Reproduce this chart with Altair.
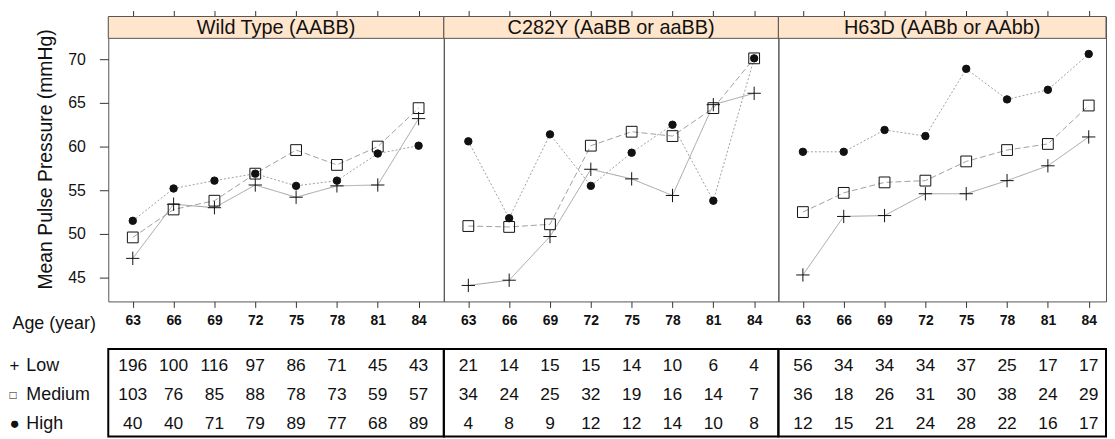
import altair as alt
import pandas as pd

FONT = "Liberation Sans"

panels = ["Wild Type (AABB)", "C282Y (AaBB or aaBB)", "H63D (AABb or AAbb)"]
ages = [63, 66, 69, 72, 75, 78, 81, 84]
levels = ["Low", "Medium", "High"]
level_symbols = ["+", "\u25a1", "\u25cf"]

# Mean pulse pressure (mmHg) per genotype panel and level
wt_low = [47.2, 53.4, 53.0, 55.6, 54.2, 55.5, 55.6, 63.2]
wt_med = [49.6, 52.8, 53.8, 56.9, 59.6, 57.9, 60.0, 64.4]
wt_high = [51.5, 55.2, 56.1, 56.9, 55.5, 56.1, 59.2, 60.1]
c_low = [44.1, 44.7, 49.7, 57.4, 56.3, 54.4, 64.8, 66.1]
c_med = [50.9, 50.8, 51.1, 60.1, 61.7, 61.2, 64.4, 70.1]
c_high = [60.6, 51.8, 61.4, 55.5, 59.3, 62.5, 53.8, 70.1]
h_low = [45.3, 52.0, 52.1, 54.6, 54.6, 56.1, 57.8, 61.1]
h_med = [52.5, 54.7, 55.9, 56.1, 58.3, 59.6, 60.3, 64.7]
h_high = [59.4, 59.4, 61.9, 61.2, 68.9, 65.4, 66.5, 70.6]

# Number of subjects per cell
wt_n_low = [196, 100, 116, 97, 86, 71, 45, 43]
wt_n_med = [103, 76, 85, 88, 78, 73, 59, 57]
wt_n_high = [40, 40, 71, 79, 89, 77, 68, 89]
c_n_low = [21, 14, 15, 15, 14, 10, 6, 4]
c_n_med = [34, 24, 25, 32, 19, 16, 14, 7]
c_n_high = [4, 8, 9, 12, 12, 14, 10, 8]
h_n_low = [56, 34, 34, 34, 37, 25, 17, 17]
h_n_med = [36, 18, 26, 31, 30, 38, 24, 29]
h_n_high = [12, 15, 21, 24, 28, 22, 16, 17]

means = {
    panels[0]: [wt_low, wt_med, wt_high],
    panels[1]: [c_low, c_med, c_high],
    panels[2]: [h_low, h_med, h_high],
}
counts = {
    panels[0]: [wt_n_low, wt_n_med, wt_n_high],
    panels[1]: [c_n_low, c_n_med, c_n_high],
    panels[2]: [h_n_low, h_n_med, h_n_high],
}

rows = []
for p in panels:
    for li, lev in enumerate(levels):
        for ai, a in enumerate(ages):
            rows.append({"panel": p, "level": lev, "age": a,
                         "value": means[p][li][ai], "n": counts[p][li][ai]})
df = pd.DataFrame(rows)

# layout constants
widths = [338, 337, 330]
PX_PER_YEAR = 13.71
X0 = 61.2
PLOT_H = 265
STRIP_H = 22
Y_MIN, Y_MAX_PLOT = 42.27, 72.39
PX_PER_UNIT = PLOT_H / (Y_MAX_PLOT - Y_MIN)
Y_MAX = Y_MAX_PLOT + STRIP_H / PX_PER_UNIT
TABLE_H = 88
LINE_COLOR = "#a0a0a0"
PLUS = "M-1,0L1,0M0,-1L0,1"

symbol_expr = ("datum.value == 'Low' ? '%s' : datum.value == 'Medium' ? '%s' : '%s'"
               % tuple(level_symbols))


def panel_chart(i):
    p = panels[i]
    w = widths[i]
    d = df[df.panel == p]
    xscale = alt.Scale(domain=[X0, X0 + w / PX_PER_YEAR], nice=False, zero=False)
    yscale = alt.Scale(domain=[Y_MIN, Y_MAX], nice=False, zero=False)
    if i == 0:
        yaxis = alt.Axis(values=[45, 50, 55, 60, 65, 70], title="Mean Pulse Pressure (mmHg)",
                         titleFontSize=19.5, titleFontWeight="normal", titleX=-63,
                         titleBaseline="middle", titleColor="#111",
                         labelFontSize=16, labelColor="#111", labelPadding=14,
                         tickSize=9, tickColor="#333", domain=False, grid=False)
        xbottom = alt.Axis(values=ages, orient="bottom", title="Age (year)",
                           titleX=-97, titleY=22, titleAlign="left", titleBaseline="middle",
                           titleFontSize=18, titleFontWeight="normal", titleColor="#111",
                           labelFontSize=14, labelFontWeight="bold", labelColor="#111",
                           labelPadding=6, tickSize=6, tickColor="#333", domain=False, grid=False)
    else:
        yaxis = None
        xbottom = alt.Axis(values=ages, orient="bottom", title=None,
                           labelFontSize=14, labelFontWeight="bold", labelColor="#111",
                           labelPadding=6, tickSize=6, tickColor="#333", domain=False, grid=False)
    xtop = alt.Axis(values=ages, orient="top", title=None, labels=False,
                    tickSize=6, tickColor="#333", domain=False, grid=False)

    strip_df = pd.DataFrame({"title": [p]})
    strip = alt.Chart(strip_df).mark_rect(fill="#FFE5CC", stroke="#555", strokeWidth=1).encode(
        x=alt.value(0), x2=alt.value(w), y=alt.value(0), y2=alt.value(STRIP_H))
    strip_text = alt.Chart(strip_df).mark_text(fontSize=20, color="#111", baseline="middle").encode(
        x=alt.value(w / 2), y=alt.value(STRIP_H / 2 + 1), text="title:N")

    lines = alt.Chart(d).mark_line(color=LINE_COLOR, strokeWidth=1).encode(
        x=alt.X("age:Q", scale=xscale, axis=xbottom),
        y=alt.Y("value:Q", scale=yscale, axis=yaxis),
        detail="level:N",
        strokeDash=alt.StrokeDash("level:N", scale=alt.Scale(domain=levels, range=[[1, 0], [6, 3], [2, 2]]),
                                  legend=None),
    )
    points = alt.Chart(d).mark_point(opacity=1, stroke="#111", strokeWidth=1).encode(
        x=alt.X("age:Q", scale=xscale, axis=xtop),
        y=alt.Y("value:Q", scale=yscale, axis=yaxis),
        shape=alt.Shape("level:N", scale=alt.Scale(domain=levels, range=[PLUS, "square", "circle"]), legend=None),
        size=alt.Size("level:N", scale=alt.Scale(domain=levels, range=[180, 56, 20]), legend=None),
        fill=alt.Fill("level:N", scale=alt.Scale(domain=levels, range=["transparent", "transparent", "#111"]),
                      legend=None),
    )
    return alt.layer(strip, strip_text, lines, points).resolve_axis(x="independent").properties(
        width=w, height=PLOT_H + STRIP_H,
        view=alt.ViewBackground(stroke="#555", strokeWidth=1))


def table_chart(i):
    p = panels[i]
    w = widths[i]
    d = df[df.panel == p]
    xscale = alt.Scale(domain=[X0, X0 + w / PX_PER_YEAR], nice=False, zero=False)
    yscale = alt.Scale(domain=levels)
    if i == 0:
        name_axis = alt.Axis(title=None, orient="left", labelAlign="left", labelPadding=83,
                             tickSize=0, ticks=False, domain=False, grid=False,
                             labelFontSize=18, labelColor="#111", labelOffset=2)
        symbol_axis = alt.Axis(title=None, orient="left", labelAlign="left", labelPadding=100,
                               tickSize=0, ticks=False, domain=False, grid=False,
                               labelFontSize={"condition": {"test": "datum.value == 'Medium'", "value": 12},
                                              "value": 17},
                               labelColor="#111", labelOffset=2, labelExpr=symbol_expr)
    else:
        name_axis = None
        symbol_axis = None
    nums = alt.Chart(d).mark_text(fontSize=17.5, color="#111", dy=2).encode(
        x=alt.X("age:Q", scale=xscale, axis=None),
        y=alt.Y("level:N", scale=yscale, axis=name_axis),
        text="n:Q",
    )
    if i == 0:
        ghost = alt.Chart(d).mark_text(fontSize=17.5, opacity=0).encode(
            x=alt.X("age:Q", scale=xscale, axis=None),
            y=alt.Y("level:N", scale=yscale, axis=symbol_axis),
            text="n:Q",
        )
        c = alt.layer(nums, ghost).resolve_axis(y="independent")
    else:
        c = nums
    return c.properties(width=w, height=TABLE_H,
                        view=alt.ViewBackground(stroke="#000", strokeWidth=2))


chart = alt.concat(
    panel_chart(0), panel_chart(1), panel_chart(2),
    table_chart(0), table_chart(1), table_chart(2),
    columns=3, spacing=alt.RowColnumber(row=48, column=0), bounds="flush",
).properties(padding=0).configure(font=FONT)

chart.save("out.html", embed_options={"renderer": "svg", "actions": False})
